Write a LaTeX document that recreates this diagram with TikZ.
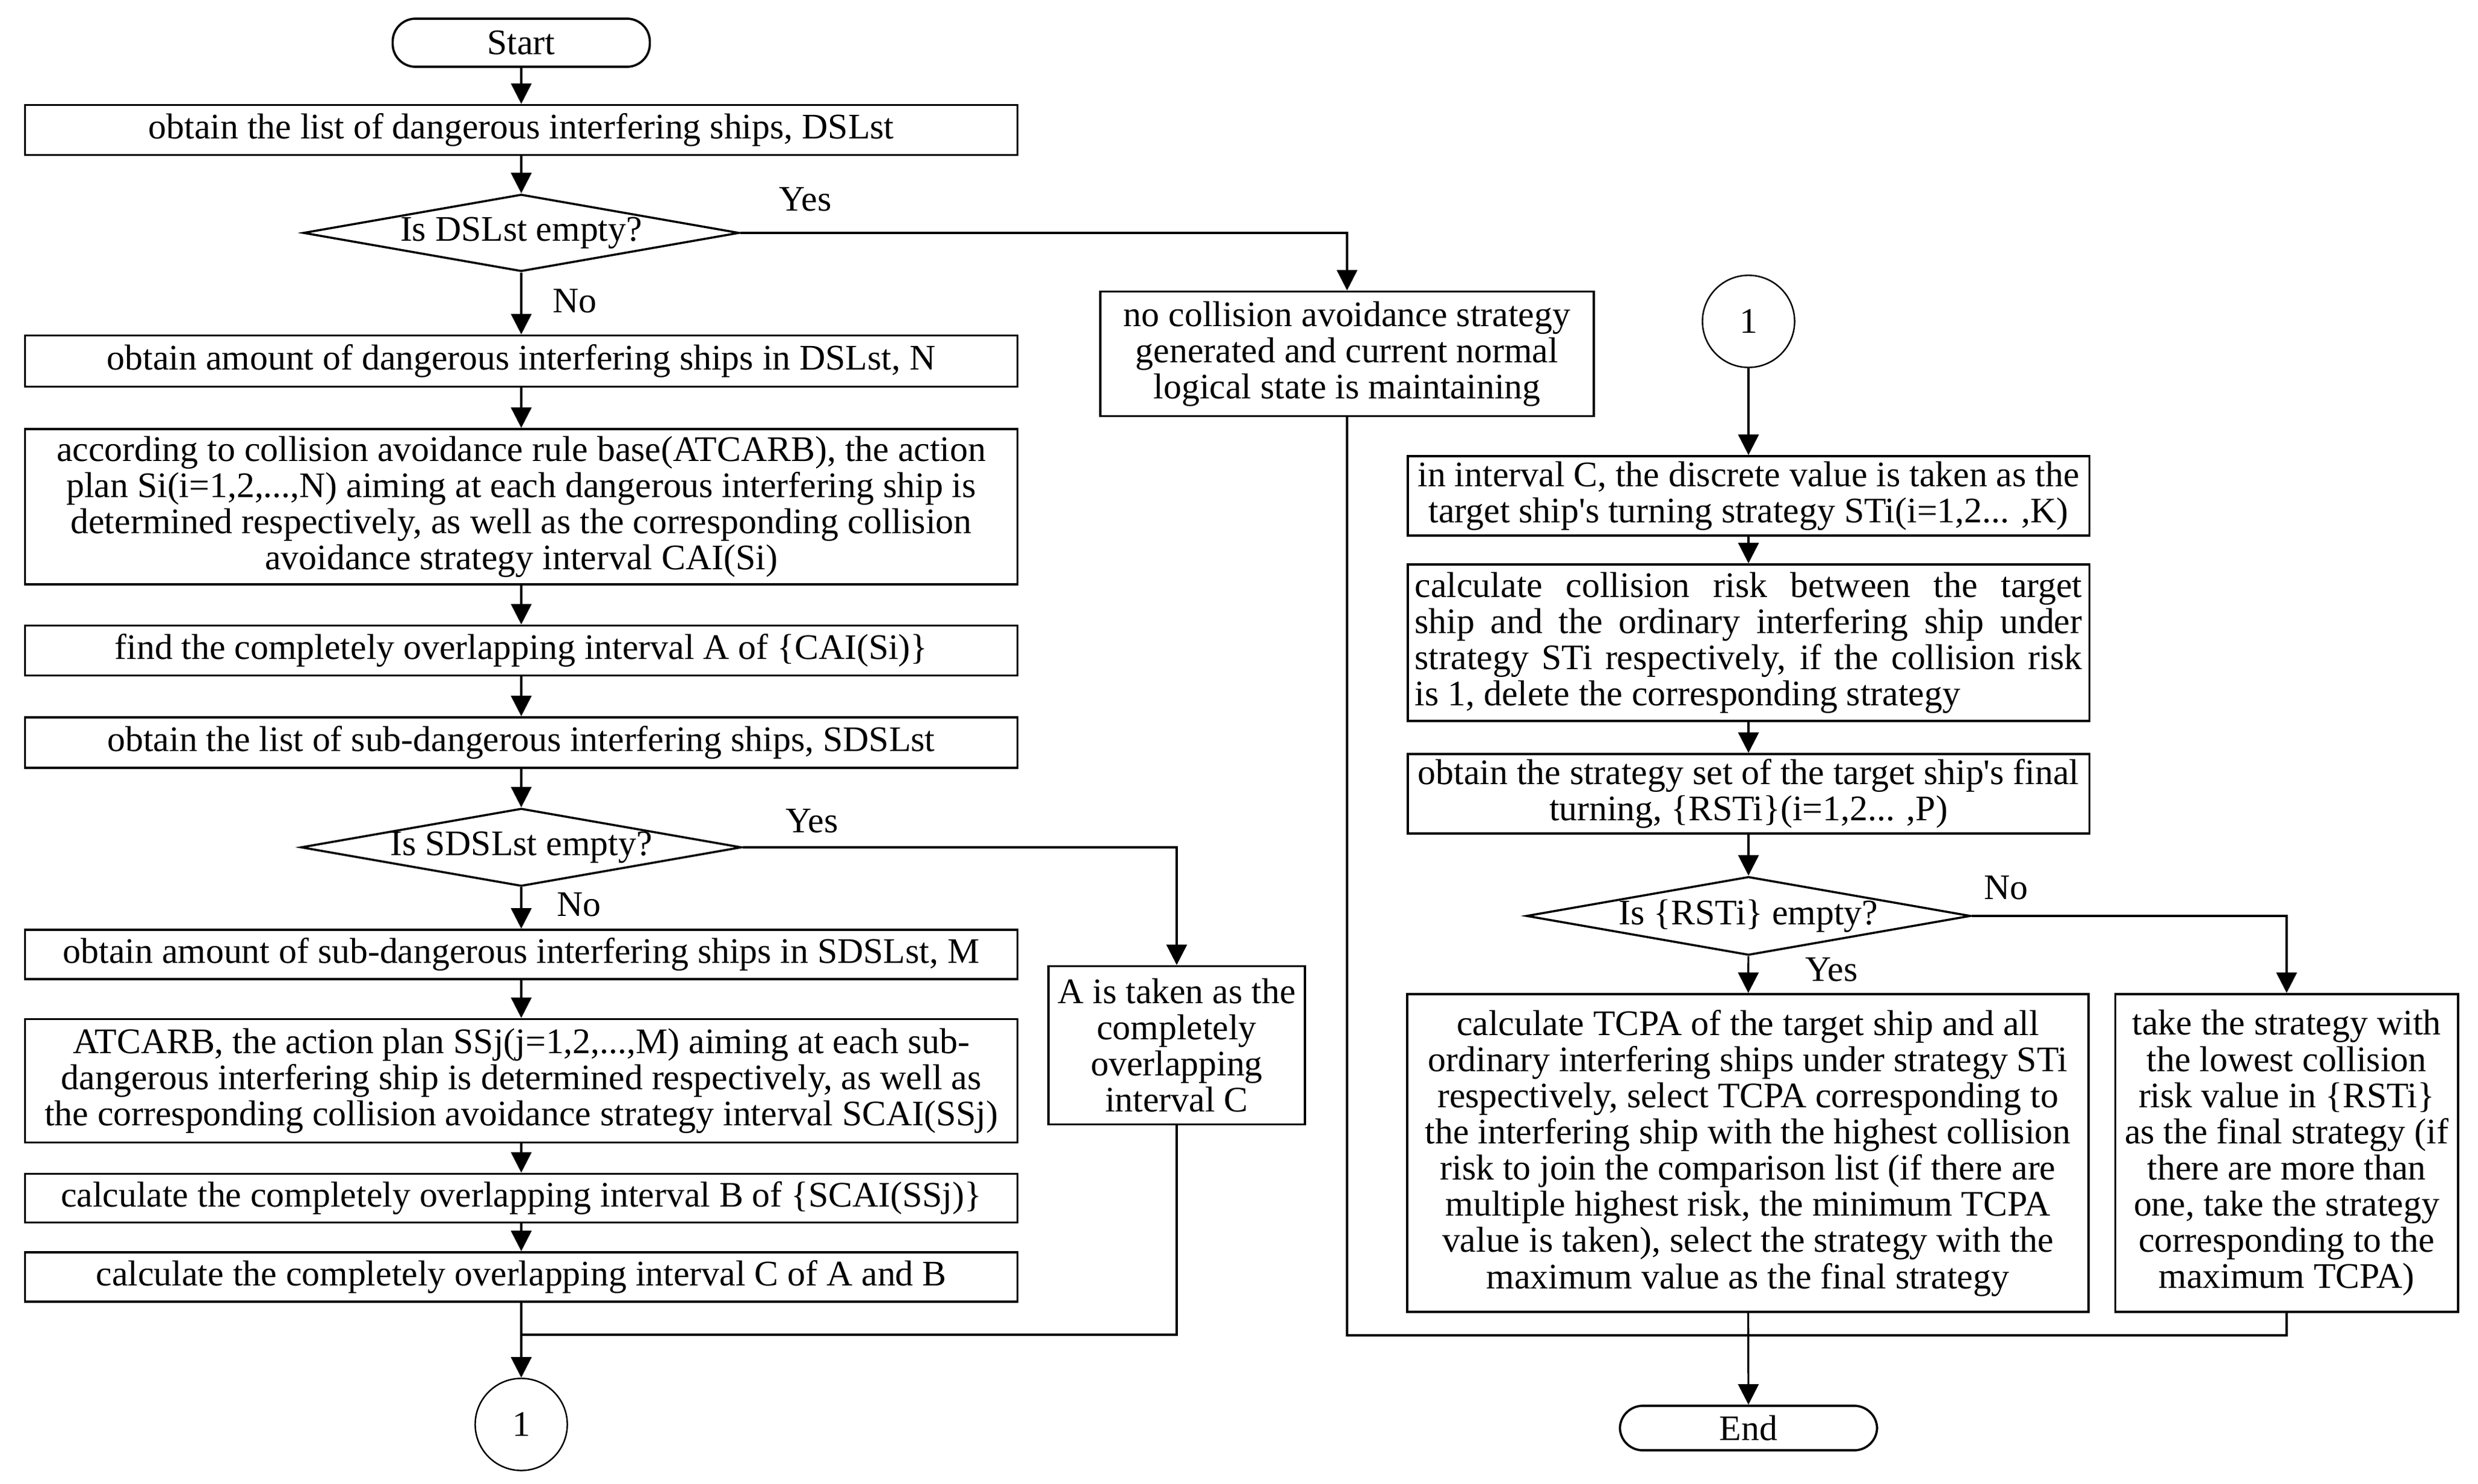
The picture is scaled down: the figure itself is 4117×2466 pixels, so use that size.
\documentclass[tikz,border=0pt]{standalone}
\usepackage{fontspec}
\setmainfont{Liberation Serif}
\usetikzlibrary{arrows.meta,shapes.geometric,calc}
\newcommand{\fsz}{\fontsize{17}{17.1}\selectfont}
\newcommand{\jl}[1]{\makebox[11.08cm][s]{#1}}
\tikzset{
  box/.style={draw, line width=1.05pt, inner sep=0pt, font=\fsz, align=center},
  term/.style={draw, line width=1.05pt, rounded corners=0.38cm, inner sep=0pt, font=\fsz, minimum width=4.27cm},
  dec/.style={draw, diamond, aspect=5.66, line width=1pt, inner sep=0pt, font=\fsz, minimum width=7.24cm, minimum height=1.28cm},
  conn/.style={draw, circle, line width=0.7pt, inner sep=0pt, font=\fsz, minimum size=1.53cm},
  lab/.style={font=\fsz, inner sep=0pt},
  flow/.style={line width=0.9pt},
  arr/.style={flow, -{Triangle[length=0.34cm,width=0.34cm]}}
}
\begin{document}
\begin{tikzpicture}[x=0.01cm,y=-0.01cm]
\useasboundingbox[fill=white] (0,0) rectangle (4117,2466);
% left column
\node[term, minimum height=0.8cm] (start) at (866,71) {Start};
\node[box, minimum width=16.48cm, minimum height=0.83cm] (b1) at (866,216) {obtain the list of dangerous interfering ships, DSLst};
\node[dec] (d1) at (866,387) {Is DSLst empty?};
\node[box, minimum width=16.48cm, minimum height=0.85cm] (b2) at (866,600) {obtain amount of dangerous interfering ships in DSLst, N};
\node[box, minimum width=16.48cm, minimum height=2.58cm] (b3) at (866,842) {according to collision avoidance rule base(ATCARB), the action\\plan Si(i=1,2,...,N) aiming at each dangerous interfering ship is\\determined respectively, as well as the corresponding collision\\avoidance strategy interval CAI(Si)};
\node[box, minimum width=16.48cm, minimum height=0.83cm] (b4) at (866,1081) {find the completely overlapping interval A of \{CAI(Si)\}};
\node[box, minimum width=16.48cm, minimum height=0.84cm] (b5) at (866,1234) {obtain the list of sub-dangerous interfering ships, SDSLst};
\node[dec] (d2) at (866,1408) {Is SDSLst empty?};
\node[box, minimum width=16.48cm, minimum height=0.82cm] (b6) at (866,1586) {obtain amount of sub-dangerous interfering ships in SDSLst, M};
\node[box, minimum width=16.48cm, minimum height=2.05cm] (b7) at (866,1796) {ATCARB, the action plan SSj(j=1,2,...,M) aiming at each sub-\\dangerous interfering ship is determined respectively, as well as\\the corresponding collision avoidance strategy interval SCAI(SSj)};
\node[box, minimum width=16.48cm, minimum height=0.81cm] (b8) at (866,1991) {calculate the completely overlapping interval B of \{SCAI(SSj)\}};
\node[box, minimum width=16.48cm, minimum height=0.82cm] (b9) at (866,2122) {calculate the completely overlapping interval C of A and B};
\node[conn] (c1) at (866,2367) {1};
\node[box, minimum width=4.26cm, minimum height=2.63cm] (ba) at (1955,1737) {A is taken as the\\completely\\overlapping\\interval C};
% middle
\node[box, minimum width=8.19cm, minimum height=2.07cm] (nc) at (2238,588) {no collision avoidance strategy\\generated and current normal\\logical state is maintaining};
% right column
\node[conn] (c2) at (2905,534) {1};
\node[box, minimum width=11.32cm, minimum height=1.32cm] (r1) at (2905,824) {in interval C, the discrete value is taken as the\\target ship\textquotesingle s turning strategy STi(i=1,2... ,K)};
\node[box, align=left, minimum width=11.32cm, minimum height=2.6cm] (r2) at (2905,1068) {\jl{calculate collision risk between the target}\\\jl{ship and the ordinary interfering ship under}\\\jl{strategy STi respectively, if the collision risk}\\is 1, delete the corresponding strategy};
\node[box, minimum width=11.32cm, minimum height=1.32cm] (r3) at (2905,1319) {obtain the strategy set of the target ship\textquotesingle s final\\turning, \{RSTi\}(i=1,2... ,P)};
\node[dec] (d3) at (2905,1522) {Is \{RSTi\} empty?};
\node[box, minimum width=11.31cm, minimum height=5.28cm] (bl) at (2904,1916) {calculate TCPA of the target ship and all\\ordinary interfering ships under strategy STi\\respectively, select TCPA corresponding to\\the interfering ship with the highest collision\\risk to join the comparison list (if there are\\multiple highest risk, the minimum TCPA\\value is taken), select the strategy with the\\maximum value as the final strategy};
\node[box, minimum width=5.69cm, minimum height=5.28cm] (br) at (3799,1916) {take the strategy with\\the lowest collision\\risk value in \{RSTi\}\\as the final strategy (if\\there are more than\\one, take the strategy\\corresponding to the\\maximum TCPA)};
\node[term, minimum height=0.74cm] (end) at (2905,2373) {End};
% labels
\node[lab] (y1) at (1338,331) {Yes};
\node[lab] (n1) at (955,500) {No};
\node[lab] (y2) at (1349,1364) {Yes};
\node[lab] (n2) at (962,1503) {No};
\node[lab] (n3) at (3333,1475) {No};
\node[lab] (y3) at (3043,1611) {Yes};
% coordinates
\coordinate (m1) at (866,2218);
\coordinate (m2) at (2904,2219);
% connectors
\draw[arr] (start) -- (b1);
\draw[arr] (b1) -- (d1);
\draw[arr] (d1) -- (b2);
\draw[arr] (b2) -- (b3);
\draw[arr] (b3) -- (b4);
\draw[arr] (b4) -- (b5);
\draw[arr] (b5) -- (d2);
\draw[arr] (d2) -- (b6);
\draw[arr] (b6) -- (b7);
\draw[arr] (b7) -- (b8);
\draw[arr] (b8) -- (b9);
\draw[arr] (b9) -- (c1);
\draw[arr] (d1.east) -| (nc.north);
\draw[arr] (d2.east) -| (ba.north);
\draw[flow] (ba.south) |- (m1);
\draw[arr] (c2) -- (r1);
\draw[arr] (r1) -- (r2);
\draw[arr] (r2) -- (r3);
\draw[arr] (r3) -- (d3);
\draw[arr] (d3) -- (bl);
\draw[arr] (d3.east) -| (br.north);
\draw[flow] (nc.south) |- (m2);
\draw[flow] (br.south) |- (m2);
\draw[arr] (bl) -- (end);
\end{tikzpicture}
\end{document}
